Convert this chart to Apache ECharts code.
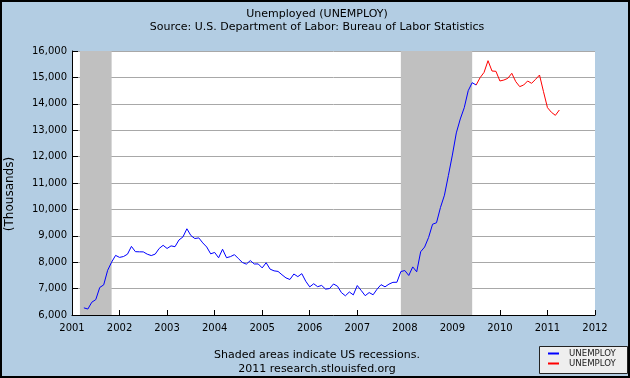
<!DOCTYPE html>
<html>
<head>
<meta charset="utf-8">
<script src="https://cdn.jsdelivr.net/npm/echarts@6/dist/echarts.min.js"></script>
<style>
html,body{margin:0;padding:0;background:#b3cde3;}
#c{width:630px;height:378px;}
</style>
</head>
<body>
<div id="c"></div>
<script>
// ---- data (thousands of persons, monthly, seasonally adjusted) ----
var blueStart = [2001, 4];   // first month of blue series
var blueValues = [
  6271, 6226, 6484, 6583, 7042, 7142, 7694, 8003, 8258,
  8182, 8215, 8304, 8599, 8399, 8393, 8390, 8304, 8251, 8307, 8520, 8640,
  8520, 8618, 8588, 8842, 8957, 9266, 9011, 8896, 8921, 8732, 8576, 8317,
  8370, 8167, 8491, 8170, 8212, 8286, 8136, 7990, 7927, 8061, 7932, 7934,
  7784, 7980, 7737, 7672, 7651, 7524, 7406, 7345, 7553, 7453, 7566, 7279,
  7064, 7184, 7072, 7120, 6980, 7001, 7175, 7091, 6847, 6727, 6872, 6762,
  7116, 6927, 6731, 6850, 6766, 6979, 7149, 7067, 7170, 7237, 7240, 7645,
  7685, 7497, 7822, 7637, 8395, 8575, 8937, 9438, 9494, 10074, 10538, 11286,
  12058, 12898, 13426, 13853, 14497, 14800, 14712
];
var redStart = [2009, 7];
var redValues = [
  14712, 14990, 15190, 15633, 15242, 15230,
  14864, 14900, 14965, 15155, 14840, 14650, 14712, 14864, 14775, 14927, 15090, 14460,
  13855, 13678, 13563, 13765
];
var recessions = [[[2001, 3], [2001, 11]], [[2007, 12], [2009, 6]]];
var yearTicks = [2001, 2012];
var yTicks = [6000, 16000, 1000];
var seriesName = 'UNEMPLOY';
var titleText = 'Unemployed (UNEMPLOY)';
var subText = 'Source: U.S. Department of Labor: Bureau of Labor Statistics';
var footer1 = 'Shaded areas indicate US recessions.';
var footer2 = '2011 research.stlouisfed.org';
var yName = '(Thousands)';

function ym(y, m) { return y + (m - 1) / 12; }
function toPairs(start, vals) {
  var out = [];
  for (var i = 0; i < vals.length; i++) {
    var mi = start[1] - 1 + i;
    out.push([ym(start[0] + Math.floor(mi / 12), (mi % 12) + 1), vals[i]]);
  }
  return out;
}
var F = 'DejaVu Sans';
var chart = echarts.init(document.getElementById('c'), null, {renderer: 'canvas'});
chart.setOption({
  backgroundColor: '#b3cde3',
  animation: false,
  grid: {left: 72, right: 35, top: 51, bottom: 63, backgroundColor: '#ffffff', show: true, borderWidth: 0},
  xAxis: {
    type: 'value', min: yearTicks[0], max: yearTicks[1], interval: 1,
    axisLine: {show: true, lineStyle: {color: '#000', width: 1}},
    axisTick: {show: true, inside: true, length: 5, lineStyle: {color: '#000'}},
    splitLine: {show: false},
    axisLabel: {margin: 8, color: '#000', fontFamily: F, fontSize: 10, formatter: function (v) { return String(v); }}
  },
  yAxis: {
    type: 'value', min: yTicks[0], max: yTicks[1], interval: yTicks[2],
    axisLine: {show: true, lineStyle: {color: '#000', width: 1}},
    axisTick: {show: true, inside: true, length: 6, lineStyle: {color: '#000'}},
    splitLine: {show: true, lineStyle: {color: '#a8a8a8', width: 1}},
    axisLabel: {margin: 5, color: '#000', fontFamily: F, fontSize: 10,
      formatter: function (v) { return v.toLocaleString('en-US'); }}
  },
  series: [
    {
      name: seriesName, type: 'line', data: toPairs(blueStart, blueValues),
      showSymbol: false, lineStyle: {color: '#0000ff', width: 1}, itemStyle: {color: '#0000ff'},
      z: 3,
      markArea: {
        silent: true,
        itemStyle: {color: '#c0c0c0'},
        data: recessions.map(function (r) {
          return [{xAxis: ym(r[0][0], r[0][1])}, {xAxis: ym(r[1][0], r[1][1])}];
        })
      }
    },
    {
      name: seriesName, type: 'line', data: toPairs(redStart, redValues),
      showSymbol: false, lineStyle: {color: '#ff0000', width: 1}, itemStyle: {color: '#ff0000'},
      z: 4
    }
  ],
  graphic: [
    {type: 'text', x: 317, y: 14, style: {text: titleText, font: '11px "' + F + '"', fill: '#000', textAlign: 'center', textVerticalAlign: 'middle'}},
    {type: 'text', x: 317, y: 27, style: {text: subText, font: '11px "' + F + '"', fill: '#000', textAlign: 'center', textVerticalAlign: 'middle'}},
    {type: 'text', x: 10, y: 194, rotation: Math.PI / 2, style: {text: yName, font: '12px "' + F + '"', fill: '#000', textAlign: 'center', textVerticalAlign: 'middle'}},
    {type: 'text', x: 317, y: 355, style: {text: footer1, font: '11px "' + F + '"', fill: '#000', textAlign: 'center', textVerticalAlign: 'middle'}},
    {type: 'text', x: 317, y: 369, style: {text: footer2, font: '11px "' + F + '"', fill: '#000', textAlign: 'center', textVerticalAlign: 'middle'}},
    {type: 'rect', shape: {x: 539.5, y: 346.5, width: 88, height: 27}, style: {fill: '#eeeeee', stroke: '#222', lineWidth: 1}},
    {type: 'line', shape: {x1: 548, y1: 353.5, x2: 559, y2: 353.5}, style: {stroke: '#0000ff', lineWidth: 2}},
    {type: 'line', shape: {x1: 548, y1: 363.5, x2: 559, y2: 363.5}, style: {stroke: '#ff0000', lineWidth: 2}},
    {type: 'text', x: 569, y: 353.5, style: {text: seriesName, font: '8.6px "' + F + '"', fill: '#222', textVerticalAlign: 'middle'}},
    {type: 'text', x: 569, y: 363.5, style: {text: seriesName, font: '8.6px "' + F + '"', fill: '#222', textVerticalAlign: 'middle'}},
    {type: 'rect', shape: {x: 1, y: 1, width: 628, height: 376}, style: {fill: 'none', stroke: '#000', lineWidth: 2}, z: 100}
  ]
});
</script>
</body>
</html>
